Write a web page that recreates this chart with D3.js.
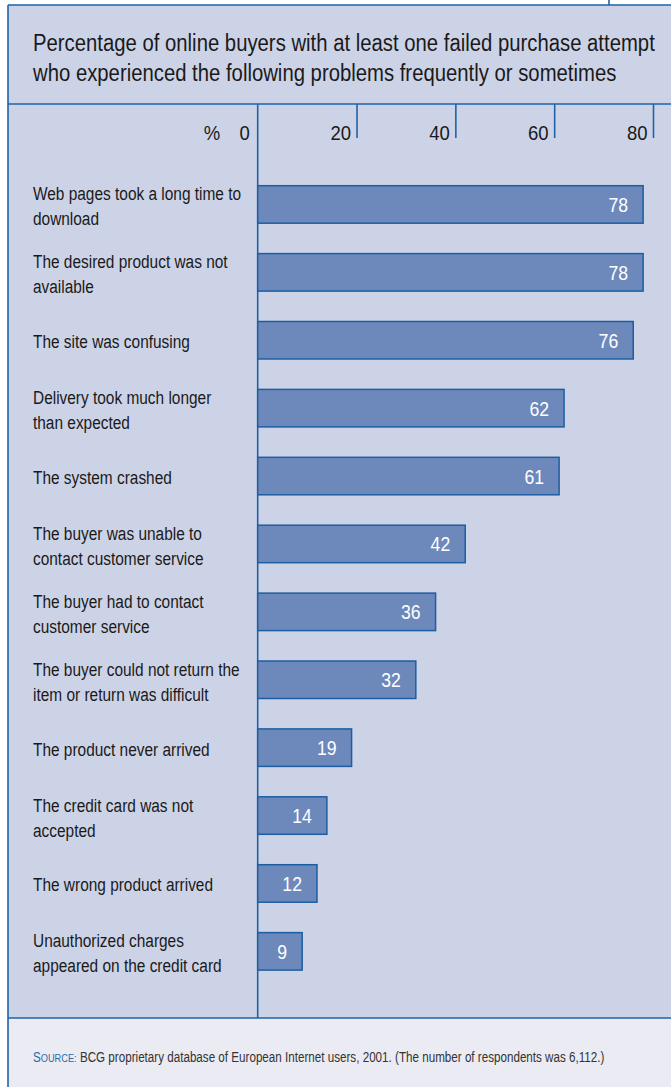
<!DOCTYPE html>
<html>
<head>
<meta charset="utf-8">
<script src="https://cdn.jsdelivr.net/npm/d3@7"></script>
<style>
  html, body { margin: 0; padding: 0; background: #ffffff; }
  svg { display: block; }
  text { font-family: "Liberation Sans", Arial, sans-serif; }
</style>
</head>
<body>
<svg id="chart" width="671" height="1087"></svg>
<script>
// Problems met by online buyers (% frequently or sometimes)
const categories = [
  ["Web pages took a long time to", "download"],
  ["The desired product was not", "available"],
  ["The site was confusing"],
  ["Delivery took much longer", "than expected"],
  ["The system crashed"],
  ["The buyer was unable to", "contact customer service"],
  ["The buyer had to contact", "customer service"],
  ["The buyer could not return the", "item or return was difficult"],
  ["The product never arrived"],
  ["The credit card was not", "accepted"],
  ["The wrong product arrived"],
  ["Unauthorized charges", "appeared on the credit card"]
];
const values = [78, 78, 76, 62, 61, 42, 36, 32, 19, 14, 12, 9];
const tickValues = [20, 40, 60, 80];
const titleLines = [
  "Percentage of online buyers with at least one failed purchase attempt",
  "who experienced the following problems frequently or sometimes"
];
const sourceText = " BCG proprietary database of European Internet users, 2001. (The number of respondents was 6,112.)";

const W = 671, H = 1087;
const border = "#1f63a6";
const panelBg = "#cdd3e7";
const footBg = "#ebebf3";
const barFill = "#6d89bc";
const barStroke = "#1c5ea2";
const ink = "#1a1a1a";

const svg = d3.select("#chart");

// condensed face: a regular sans squeezed horizontally to the title's set width
const probe = svg.append("text").attr("font-size", 23).text(titleLines[0]);
const k = 622 / probe.node().getComputedTextLength();
probe.remove();
const place = (x, y, f = 1) => `translate(${x},${y}) scale(${k * f},1)`;

const boxLeft = 8, boxTop = 5, headerBottom = 104, footerTop = 1018;

// panel backgrounds
svg.append("rect").attr("x", boxLeft).attr("y", boxTop)
  .attr("width", W - boxLeft).attr("height", footerTop - boxTop).attr("fill", panelBg);
svg.append("rect").attr("x", boxLeft).attr("y", footerTop)
  .attr("width", W - boxLeft).attr("height", H - footerTop).attr("fill", footBg);

// frame lines
const frame = svg.append("g").attr("stroke", border).attr("stroke-width", 1.6).attr("fill", "none");
frame.append("line").attr("x1", boxLeft).attr("x2", W).attr("y1", boxTop).attr("y2", boxTop);
frame.append("line").attr("x1", boxLeft).attr("x2", boxLeft).attr("y1", boxTop).attr("y2", H);
frame.append("line").attr("x1", 609).attr("x2", 609).attr("y1", 0).attr("y2", boxTop);
frame.append("line").attr("x1", boxLeft).attr("x2", W).attr("y1", headerBottom).attr("y2", headerBottom);
frame.append("line").attr("x1", boxLeft).attr("x2", W).attr("y1", footerTop).attr("y2", footerTop);

// title
svg.append("g").selectAll("text").data(titleLines).join("text")
  .attr("transform", (d, i) => place(33, 51 + i * 30))
  .attr("font-size", 23).attr("fill", ink).text(d => d);

// scales
const x = d3.scaleLinear().domain([0, 80]).range([257.7, 653]);
const y = d3.scaleBand().domain(d3.range(categories.length))
  .range([185.7, 970.1]).paddingInner(0.448).paddingOuter(0);

// axis: ticks hang from the header rule, labels sit left of each tick
const axis = d3.axisBottom(x).tickValues(tickValues).tickSize(34).tickFormat(d3.format("d"));
const ax = svg.append("g").attr("transform", `translate(0,${headerBottom})`).call(axis);
ax.select(".domain").remove();
ax.selectAll(".tick line").attr("stroke", border).attr("stroke-width", 1.6);
ax.selectAll(".tick text")
  .attr("x", null).attr("y", null).attr("dy", null)
  .attr("transform", place(-6, 36))
  .attr("text-anchor", "end").attr("font-size", 21).attr("fill", ink)
  .style("font-family", "'Liberation Sans', Arial, sans-serif");

svg.append("text").attr("transform", place(x(0) - 8, headerBottom + 36))
  .attr("text-anchor", "end").attr("font-size", 21).attr("fill", ink).text("0");
svg.append("text").attr("transform", place(212, headerBottom + 36))
  .attr("text-anchor", "middle").attr("font-size", 21).attr("fill", ink).text("%");

// zero line
svg.append("line").attr("x1", x(0)).attr("x2", x(0))
  .attr("y1", headerBottom).attr("y2", footerTop)
  .attr("stroke", border).attr("stroke-width", 1.6);

// bars
const rows = svg.append("g").selectAll("g").data(values).join("g");
rows.append("rect")
  .attr("x", x(0)).attr("y", (d, i) => y(i))
  .attr("width", d => x(d) - x(0)).attr("height", y.bandwidth())
  .attr("fill", barFill).attr("stroke", barStroke).attr("stroke-width", 1.5);
rows.append("text")
  .attr("transform", (d, i) => place(x(d) - 15, y(i) + y.bandwidth() / 2 + 7.5))
  .attr("text-anchor", "end").attr("font-size", 20).attr("fill", "#ffffff")
  .text(d => d);

// category labels
const labels = svg.append("g").selectAll("text").data(categories).join("text")
  .attr("font-size", 19).attr("fill", ink)
  .attr("transform", (lines, i) => {
    const cy = y(i) + y.bandwidth() / 2;
    return place(33, lines.length === 1 ? cy + 8 : cy - 4, 0.92);
  });
labels.each(function(lines) {
  d3.select(this).selectAll("tspan").data(lines).join("tspan")
    .attr("x", 0).attr("y", (d, j) => j * 25).text(d => d);
});

// source note
const src = svg.append("text").attr("transform", place(33, 1062, 0.91))
  .attr("font-size", 14.5).attr("fill", "#333333");
src.append("tspan").attr("fill", "#2a6aa8").text("S");
src.append("tspan").attr("fill", "#2a6aa8").attr("font-size", 11.5).text("OURCE:");
src.append("tspan").text(sourceText);
</script>
</body>
</html>
